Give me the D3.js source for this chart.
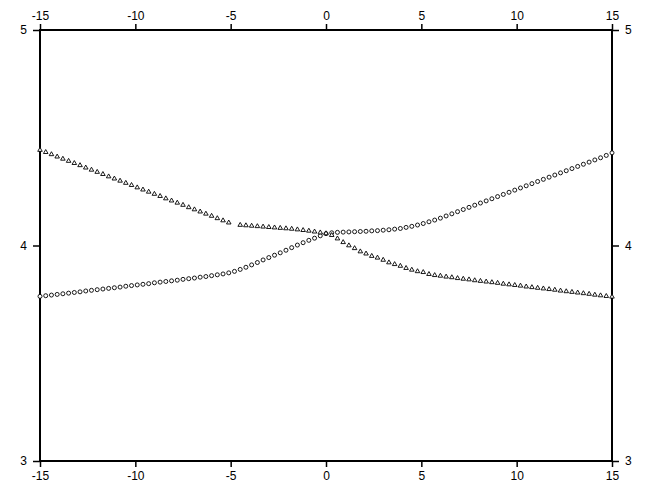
<!DOCTYPE html>
<html>
<head>
<meta charset="utf-8">
<script src="https://cdn.jsdelivr.net/npm/d3@7"></script>
<style>
  body { margin: 0; background: #fff; }
  svg text { font-family: "Liberation Sans", Arial, sans-serif; font-size: 12px; fill: #000; }
</style>
</head>
<body>
<div id="chart"></div>
<script>
// x grid of the samples (step 0.3)
var xValues = [
  -15.0, -14.7, -14.4, -14.1, -13.8, -13.5, -13.2, -12.9, -12.6, -12.3,
  -12.0, -11.7, -11.4, -11.1, -10.8, -10.5, -10.2, -9.9, -9.6, -9.3,
  -9.0, -8.7, -8.4, -8.1, -7.8, -7.5, -7.2, -6.9, -6.6, -6.3,
  -6.0, -5.7, -5.4, -5.1, -4.8, -4.5, -4.2, -3.9, -3.6, -3.3,
  -3.0, -2.7, -2.4, -2.1, -1.8, -1.5, -1.2, -0.9, -0.6, -0.3,
  0.0, 0.3, 0.6, 0.9, 1.2, 1.5, 1.8, 2.1, 2.4, 2.7,
  3.0, 3.3, 3.6, 3.9, 4.2, 4.5, 4.8, 5.1, 5.4, 5.7,
  6.0, 6.3, 6.6, 6.9, 7.2, 7.5, 7.8, 8.1, 8.4, 8.7,
  9.0, 9.3, 9.6, 9.9, 10.2, 10.5, 10.8, 11.1, 11.4, 11.7,
  12.0, 12.3, 12.6, 12.9, 13.2, 13.5, 13.8, 14.1, 14.4, 14.7,
  15.0
];

// triangle series (one sample missing at -4.8)
var triangleValues = [
  4.443, 4.433, 4.423, 4.412, 4.402, 4.392, 4.382, 4.372, 4.361, 4.351,
  4.341, 4.331, 4.320, 4.310, 4.300, 4.290, 4.280, 4.269, 4.259, 4.249,
  4.239, 4.229, 4.218, 4.208, 4.198, 4.188, 4.177, 4.167, 4.157, 4.147,
  4.137, 4.126, 4.116, 4.106, null, 4.095, 4.093, 4.091, 4.089, 4.087,
  4.085, 4.083, 4.081, 4.079, 4.077, 4.074, 4.071, 4.068, 4.064, 4.060,
  4.056, 4.048, 4.032, 4.015, 4.000, 3.987, 3.972, 3.962, 3.951, 3.943,
  3.933, 3.921, 3.913, 3.905, 3.895, 3.887, 3.880, 3.876, 3.867, 3.862,
  3.859, 3.855, 3.852, 3.848, 3.845, 3.842, 3.838, 3.835, 3.832, 3.829,
  3.826, 3.822, 3.819, 3.816, 3.813, 3.809, 3.806, 3.803, 3.800, 3.797,
  3.794, 3.790, 3.787, 3.784, 3.781, 3.778, 3.775, 3.771, 3.768, 3.765,
  3.762
];

// circle series
var circleValues = [
  3.764, 3.767, 3.770, 3.773, 3.776, 3.779, 3.782, 3.785, 3.789, 3.792,
  3.795, 3.798, 3.801, 3.804, 3.807, 3.811, 3.814, 3.817, 3.820, 3.823,
  3.827, 3.830, 3.833, 3.836, 3.839, 3.843, 3.846, 3.849, 3.853, 3.856,
  3.860, 3.864, 3.868, 3.873, 3.880, 3.889, 3.899, 3.910, 3.921, 3.933,
  3.944, 3.955, 3.966, 3.978, 3.990, 4.002, 4.013, 4.024, 4.034, 4.045,
  4.055, 4.059, 4.061, 4.062, 4.063, 4.064, 4.065, 4.066, 4.068, 4.069,
  4.071, 4.073, 4.076, 4.079, 4.084, 4.089, 4.095, 4.102, 4.110, 4.118,
  4.127, 4.137, 4.147, 4.157, 4.167, 4.177, 4.187, 4.197, 4.207, 4.217,
  4.227, 4.237, 4.247, 4.257, 4.267, 4.277, 4.287, 4.297, 4.307, 4.317,
  4.327, 4.337, 4.347, 4.357, 4.367, 4.377, 4.387, 4.397, 4.407, 4.418,
  4.430
];

var xTicks = [-15, -10, -5, 0, 5, 10, 15];
var yTicks = [3, 4, 5];

var width = 665, height = 502;
var margin = {top: 30, right: 53, bottom: 41, left: 40};
var innerW = width - margin.left - margin.right,
    innerH = height - margin.top - margin.bottom;

var svg = d3.select("#chart")
  .append("svg")
  .attr("width", width)
  .attr("height", height);

var g = svg.append("g")
  .attr("transform", `translate(${margin.left},${margin.top})`);

var x = d3.scaleLinear().domain([-15, 15]).range([0, innerW]);
var y = d3.scaleLinear().domain([3, 5]).range([innerH, 0]);

// plain hyphen for negatives, like the original
var fmt = function(d) { return String(d); };

// axes on all four sides
function styleAxis(sel) {
  sel.select(".domain").remove();
  sel.selectAll(".tick line").attr("stroke", "#000").attr("stroke-width", 1.5);
  sel.selectAll(".tick text").style("font-size", "12px")
    .style("font-family", "'Liberation Sans', Arial, sans-serif");
}

g.append("g")
  .call(d3.axisTop(x).tickValues(xTicks).tickSize(6).tickPadding(4).tickFormat(fmt))
  .call(styleAxis);
g.append("g")
  .attr("transform", `translate(0,${innerH})`)
  .call(d3.axisBottom(x).tickValues(xTicks).tickSize(6).tickPadding(4).tickFormat(fmt))
  .call(styleAxis);
g.append("g")
  .call(d3.axisLeft(y).tickValues(yTicks).tickSize(7).tickPadding(6).tickFormat(fmt))
  .call(styleAxis);
g.append("g")
  .attr("transform", `translate(${innerW},0)`)
  .call(d3.axisRight(y).tickValues(yTicks).tickSize(7).tickPadding(6).tickFormat(fmt))
  .call(styleAxis);

// frame
g.append("rect")
  .attr("x", 0).attr("y", 0)
  .attr("width", innerW).attr("height", innerH)
  .attr("fill", "none")
  .attr("stroke", "#000")
  .attr("stroke-width", 2);

// circles
var circleData = xValues.map(function(d, i) { return {x: d, y: circleValues[i]}; })
  .filter(function(d) { return d.y != null; });
g.append("g").selectAll("circle")
  .data(circleData)
  .enter().append("circle")
  .attr("cx", function(d) { return x(d.x); })
  .attr("cy", function(d) { return y(d.y); })
  .attr("r", 2)
  .attr("fill", "#fff")
  .attr("stroke", "#000")
  .attr("stroke-width", 0.9);

// triangles
var triData = xValues.map(function(d, i) { return {x: d, y: triangleValues[i]}; })
  .filter(function(d) { return d.y != null; });
var tri = d3.symbol().type(d3.symbolTriangle).size(9);
g.append("g").selectAll("path")
  .data(triData)
  .enter().append("path")
  .attr("transform", function(d) { return `translate(${x(d.x)},${y(d.y)})`; })
  .attr("d", tri)
  .attr("fill", "#fff")
  .attr("stroke", "#000")
  .attr("stroke-width", 0.9);
</script>
</body>
</html>
